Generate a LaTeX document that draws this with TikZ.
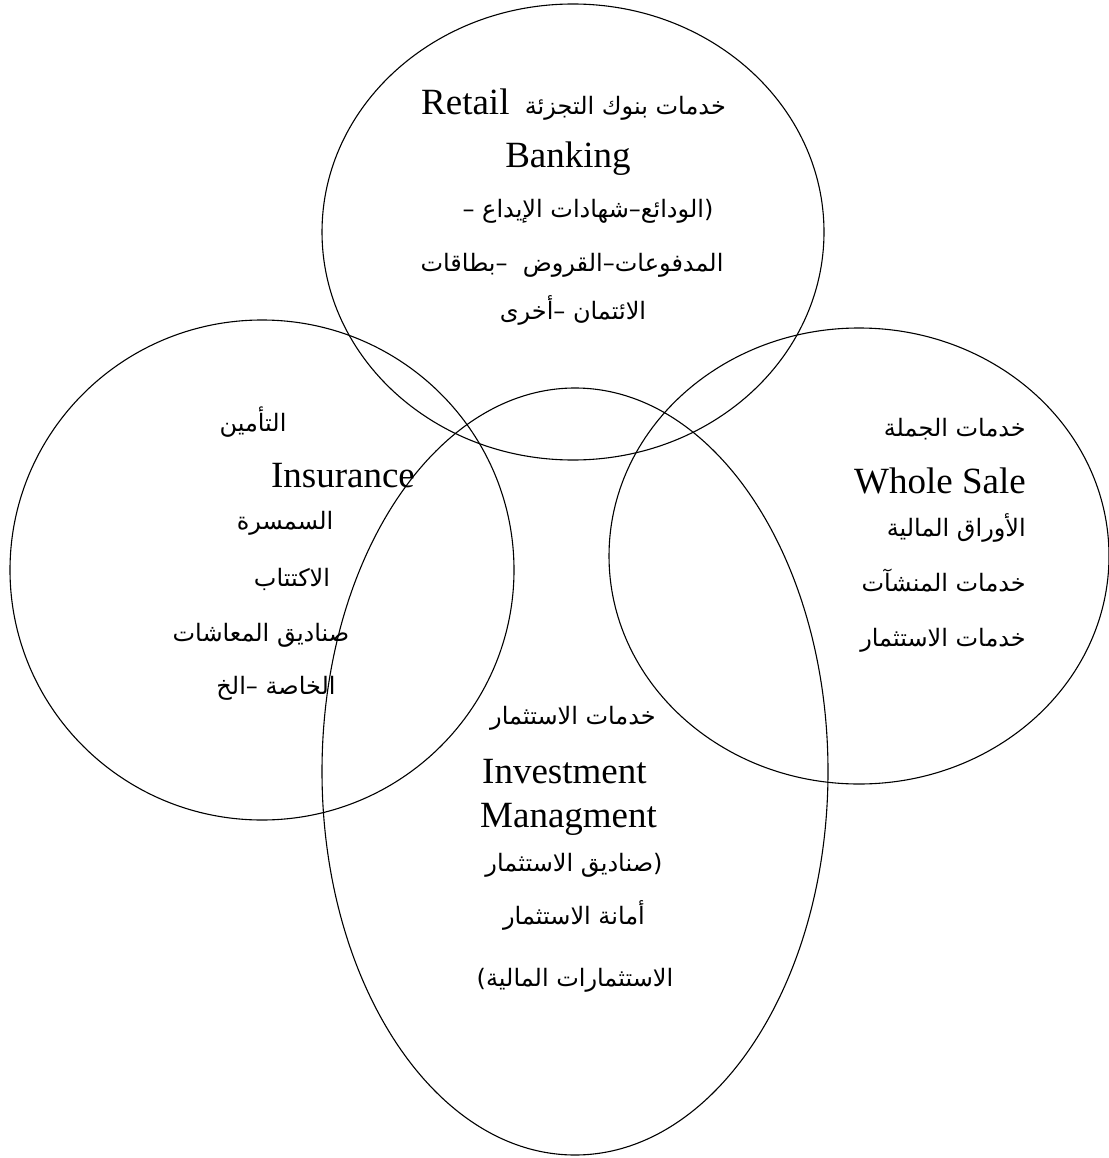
\documentclass[tikz,border=0pt]{standalone}
\usepackage{fontspec}
\setmainfont{Liberation Serif}
\newfontfamily\arabicfont[Script=Arabic]{DejaVu Sans}
\TeXXeTstate=1
\usetikzlibrary{shapes.geometric}
\tikzset{
  venn/.style={draw, ellipse, line width=1.1pt, inner sep=0pt},
  lat/.style={font=\fontsize{37}{44}\selectfont, inner sep=0pt, anchor=base},
  arab/.style={font=\arabicfont\fontsize{24}{28}\selectfont, inner sep=0pt, anchor=base},
  arabr/.style={arab, anchor=base east},
}
\begin{document}
\begin{tikzpicture}[x=1pt,y=-1pt]
\useasboundingbox (0,0) rectangle (1108,1158);
% circles
\node[venn, minimum width=502pt, minimum height=456pt] (retail) at (573,232) {};
\node[venn, minimum width=504pt, minimum height=500pt] (insur) at (262,570) {};
\node[venn, minimum width=500pt, minimum height=456pt] (whole) at (859,556) {};
\node[venn, minimum width=506pt, minimum height=767pt] (invest) at (575,771.5) {};
% top circle text
\node[arab] (r1) at (573.5,115) {\beginR خدمات بنوك التجزئة\ \ \beginL{\rmfamily\fontsize{37}{44}\selectfont Retail}\endL\endR};
\node[lat] (r2) at (568,168) {Banking};
\node[arab] (r3) at (588,218) {\beginR (الودائع–شهادات الإيداع –\endR};
\node[arab] (r4) at (572,271) {\beginR المدفوعات–القروض\ \ –بطاقات\endR};
\node[arab] (r5) at (573,319) {\beginR الائتمان –أخرى\endR};
% left circle text
\node[arab] (i1) at (253,431) {\beginR التأمين\endR};
\node[lat] (i2) at (343,487) {Insurance};
\node[arab] (i3) at (285,529) {\beginR السمسرة\endR};
\node[arab] (i4) at (292,586) {\beginR الاكتتاب\endR};
\node[arab] (i5) at (261,641) {\beginR صناديق المعاشات\endR};
\node[arab] (i6) at (276,694) {\beginR الخاصة –الخ\endR};
% right circle text
\node[arabr] (w1) at (1026,436) {\beginR خدمات الجملة\endR};
\node[lat, anchor=base east] (w2) at (1026,493) {Whole Sale};
\node[arabr] (w3) at (1026,536) {\beginR الأوراق المالية\endR};
\node[arabr] (w4) at (1026,591) {\beginR خدمات المنشآت\endR};
\node[arabr] (w5) at (1026,646) {\beginR خدمات الاستثمار\endR};
% bottom ellipse text
\node[arab] (m1) at (573,724) {\beginR خدمات الاستثمار\endR};
\node[lat, anchor=base west] (m2) at (482,783) {Investment};
\node[lat, anchor=base west] (m3) at (480,827) {Managment};
\node[arab] (m4) at (574,871) {\beginR (صناديق الاستثمار\endR};
\node[arab] (m5) at (574,924) {\beginR أمانة الاستثمار\endR};
\node[arab] (m6) at (575,986) {\beginR الاستثمارات المالية)\endR};
\end{tikzpicture}
\end{document}
